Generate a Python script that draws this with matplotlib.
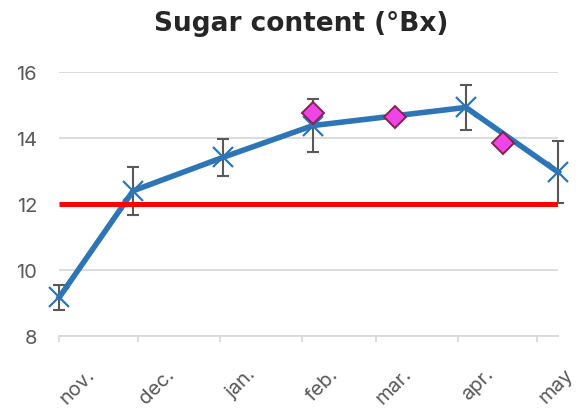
import numpy as np
import matplotlib
matplotlib.use("Agg")
import matplotlib.pyplot as plt
import matplotlib.dates as mdates
from matplotlib.transforms import ScaledTranslation

# --- data ---
sample_dates = ["2018-11-01", "2018-11-29", "2019-01-02", "2019-02-05", "2019-04-04", "2019-05-09"]
sugar = [9.18, 12.40, 13.41, 14.37, 14.92, 12.96]
sugar_err = [0.37, 0.72, 0.56, 0.81, 0.67, 0.93]

extra_dates = ["2019-02-05", "2019-03-08", "2019-04-18"]
extra_sugar = [14.74, 14.62, 13.84]

limit_dates = ["2018-11-01", "2019-05-09"]
limit_value = [12, 12]

month_labels = ["nov.", "dec.", "jan.", "feb.", "mar.", "apr.", "may"]
y_ticks = [8, 10, 12, 14, 16]

d_sample = np.array(sample_dates, dtype="datetime64[D]")
d_extra = np.array(extra_dates, dtype="datetime64[D]")
d_limit = np.array(limit_dates, dtype="datetime64[D]")

plt.rcParams["font.family"] = ["Inter", "DejaVu Sans"]

fig = plt.figure(figsize=(5.8, 4.1), dpi=100)
ax = fig.add_axes([0.1022, 0.1773, 0.8603, 0.6454])

ax.errorbar(d_sample, sugar, yerr=sugar_err, fmt="none", ecolor="#595959",
            elinewidth=1.5, capsize=4, capthick=1.5, zorder=2, clip_on=False)
ax.plot(d_sample, sugar, color="#2E75B6", lw=4, marker="x", ms=14, mew=1.6,
        zorder=3, clip_on=False)
ax.plot(d_limit, limit_value, color="#FF0000", lw=3.6, zorder=4, solid_capstyle="butt")
ax.plot(d_extra, extra_sugar, ls="none", marker="D", ms=11, mfc="#EE45E6",
        mec="#85204F", mew=1.4, zorder=5, clip_on=False)

ax.set_xlim(d_limit[0], d_limit[-1])
ax.set_ylim(8, 16)
ax.set_yticks(y_ticks)
ax.yaxis.grid(True, color="#D9D9D9", lw=1.3)
ax.set_axisbelow(True)

for s in ["top", "right", "left"]:
    ax.spines[s].set_visible(False)
ax.spines["bottom"].set_color("#D9D9D9")
ax.spines["bottom"].set_linewidth(1.3)

ax.xaxis.set_major_locator(mdates.MonthLocator())
ax.set_xticks(ax.get_xticks()[:len(month_labels)])
ax.set_xticklabels(month_labels, rotation=45, rotation_mode="anchor",
                   ha="right", va="center")
ax.tick_params(axis="x", length=4, width=1.3, color="#D9D9D9", pad=21,
               labelsize=14.5, labelcolor="#595959")
ax.tick_params(axis="y", length=0, pad=16, labelsize=14.5, labelcolor="#595959")

shift = ScaledTranslation(0.33, 0, fig.dpi_scale_trans)
for lab in ax.get_xticklabels():
    lab.set_transform(lab.get_transform() + shift)

fig.suptitle("Sugar content (°Bx)", x=0.52, y=0.972, fontsize=19,
             fontweight="bold", color="#262626", family="DejaVu Sans")

fig.savefig("out.png", dpi=100)
